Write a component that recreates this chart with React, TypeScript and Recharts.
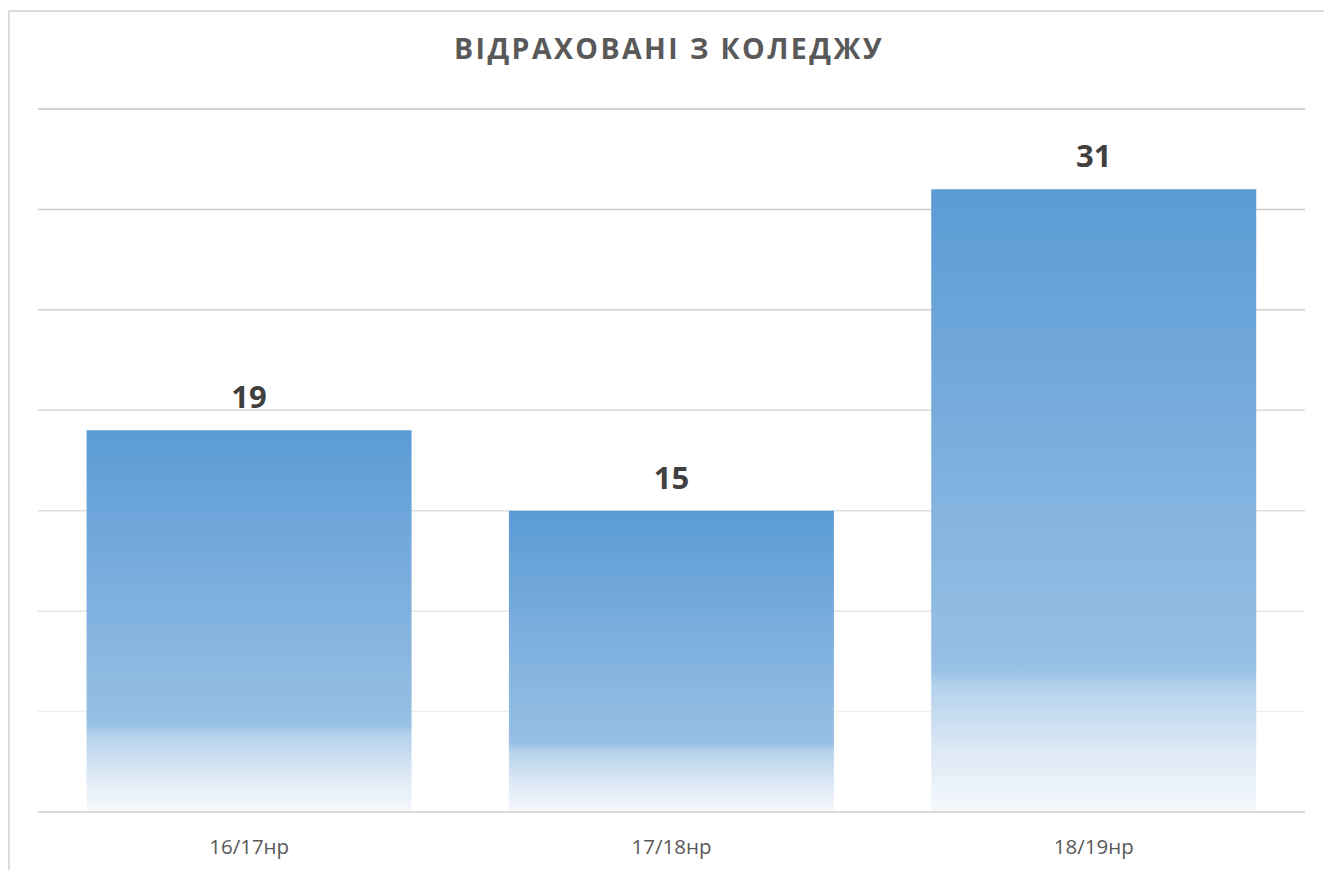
import { BarChart, Bar, XAxis, YAxis, CartesianGrid, LabelList } from "recharts";

const TITLE = "ВІДРАХОВАНІ З КОЛЕДЖУ";
const YEARS = ["16/17нр", "17/18нр", "18/19нр"];
const EXPELLED = [19, 15, 31];
const Y_TICKS = [0, 5, 10, 15, 20, 25, 30, 35];

const data = YEARS.map((year, i) => ({ year, count: EXPELLED[i] }));

const FONT = "'Open Sans', 'Noto Sans', sans-serif";

export default function App() {
  return (
    <div style={{ position: "absolute", left: 0, top: 0, width: 1324, height: 870, background: "#fff", fontFamily: FONT }}>
      <div
        style={{
          position: "absolute",
          left: 8,
          top: 10,
          width: 1316,
          height: 860,
          borderLeft: "2px solid #dcdcdc",
          borderTop: "2px solid #dcdcdc",
          boxSizing: "border-box",
        }}
      />
      <div
        style={{
          position: "absolute",
          left: 0,
          top: 29,
          width: 1324,
          textAlign: "center",
          fontSize: 28.5,
          fontWeight: 700,
          letterSpacing: 2.4,
          color: "#595959",
          paddingLeft: 14,
          boxSizing: "border-box",
        }}
      >
        {TITLE}
      </div>
      <div style={{ position: "absolute", left: 0, top: 0 }}>
        <BarChart
          width={1324}
          height={870}
          data={data}
          margin={{ top: 109, right: 19, left: 38, bottom: 8 }}
          barCategoryGap="11.5%"
        >
          <defs>
            <linearGradient id="barFill" x1="0" y1="0" x2="0" y2="1">
              <stop offset="0%" stopColor="#5B9BD5" />
              <stop offset="77%" stopColor="#98BFE4" />
              <stop offset="80%" stopColor="#B5D2EC" />
              <stop offset="90%" stopColor="#DCE8F5" />
              <stop offset="100%" stopColor="#F6F9FD" />
            </linearGradient>
            <linearGradient id="gridFade" gradientUnits="userSpaceOnUse" x1="0" y1="109" x2="0" y2="812">
              <stop offset="0%" stopColor="#c4c4c4" />
              <stop offset="100%" stopColor="#f4f4f4" />
            </linearGradient>
          </defs>
          <CartesianGrid vertical={false} stroke="url(#gridFade)" strokeWidth={1.5} />
          <YAxis hide domain={[0, 35]} ticks={Y_TICKS} />
          <XAxis
            dataKey="year"
            height={50}
            tickLine={false}
            tickMargin={21}
            axisLine={{ stroke: "#d9d9d9", strokeWidth: 2 }}
            tick={{ fontSize: 20.5, fill: "#595959", fontFamily: FONT }}
          />
          <Bar dataKey="count" fill="url(#barFill)" isAnimationActive={false}>
            <LabelList
              dataKey="count"
              position="top"
              offset={22}
              style={{ fontSize: 31, fontWeight: 700, fill: "#404040", fontFamily: FONT }}
            />
          </Bar>
        </BarChart>
      </div>
    </div>
  );
}
